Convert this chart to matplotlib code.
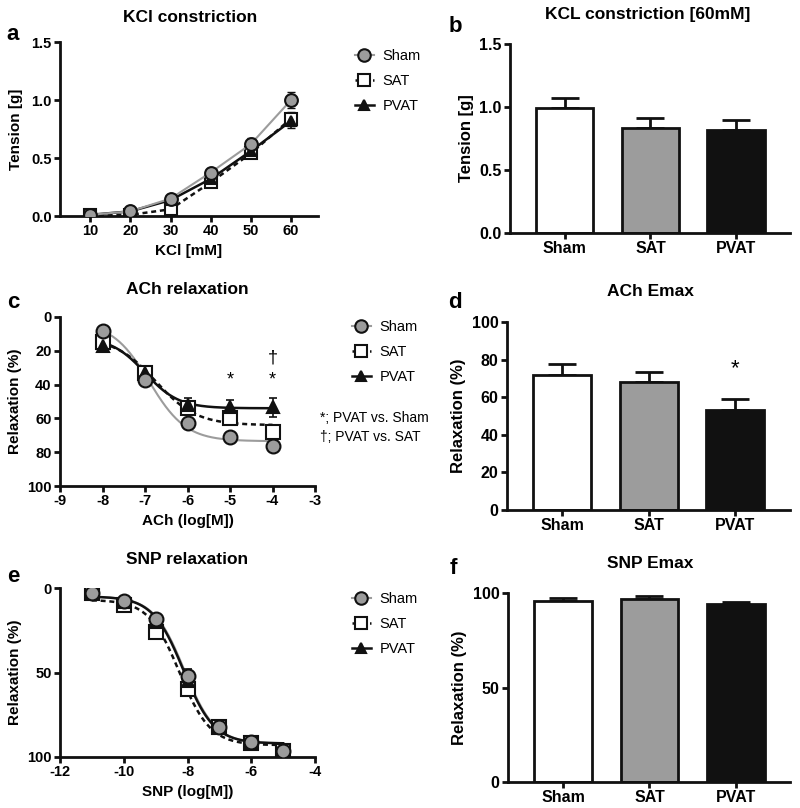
import numpy as np
import matplotlib
matplotlib.use("Agg")
import matplotlib.pyplot as plt
from matplotlib.lines import Line2D

plt.rcParams['font.family'] = ['Liberation Sans', 'DejaVu Sans']
plt.rcParams['axes.unicode_minus'] = False

# ---------------- data ----------------
groups = ['Sham', 'SAT', 'PVAT']

kcl_conc = [10, 20, 30, 40, 50, 60]
kcl_sham = [0.01, 0.04, 0.15, 0.375, 0.62, 1.00]
kcl_sham_err = [0.02, 0.02, 0.02, 0.03, 0.05, 0.07]
kcl_sat = [0.005, 0.01, 0.058, 0.29, 0.54, 0.84]
kcl_sat_err = [0.01, 0.01, 0.01, 0.03, 0.04, 0.06]
kcl_pvat = [0.01, 0.04, 0.137, 0.32, 0.56, 0.82]
kcl_pvat_err = [0.01, 0.01, 0.02, 0.03, 0.04, 0.06]

kcl60_mean = [0.99, 0.83, 0.82]
kcl60_err = [0.08, 0.08, 0.075]

ach_logc = [-8, -7, -6, -5, -4]
ach_sham = [8, 37, 62.5, 71, 76.5]
ach_sham_err = [1, 3, 1.5, 1, 1.5]
ach_sat = [15, 33, 54, 60, 68]
ach_sat_err = [2, 3, 3, 4, 4]
ach_pvat = [17, 33, 52, 53.5, 53.5]
ach_pvat_err = [2, 3, 4, 4.5, 5.5]
# fitted sigmoid parameters: bottom, top, logEC50, hill
ach_fit_sham = [3, 73.5, -6.9, 1.0]
ach_fit_sat = [12, 64, -6.75, 0.9]
ach_fit_pvat = [12, 54, -7.0, 1.1]

ach_emax = [72, 68, 53]
ach_emax_err = [5.5, 5.5, 6]

snp_logc = [-11, -10, -9, -8, -7, -6, -5]
snp_sham = [3, 7.5, 18.5, 52, 82, 91, 96.5]
snp_sham_err = [1, 1, 1.5, 4, 1.5, 1, 1]
snp_sat = [3, 10, 26, 60, 82, 91.5, 96.5]
snp_sat_err = [1, 1.5, 3, 3, 1.5, 1, 1]
snp_pvat = [3, 8, 20, 55, 82, 91, 96.5]
snp_pvat_err = [1, 1, 1.5, 3, 1.5, 1, 1]
snp_fit_sham = [5, 92, -8.1, 0.9]
snp_fit_sat = [7, 93, -8.25, 0.9]
snp_fit_pvat = [5, 92, -8.13, 0.9]

snp_emax = [96, 97, 94]
snp_emax_err = [1.5, 1.5, 1.5]

# ---------------- style ----------------
GREY = '#9c9c9c'
BLACK = '#111111'
W, H = 800, 808
fig = plt.figure(figsize=(W / 100, H / 100), dpi=100)


def box(x0, y0, x1, y1):
    return [x0 / W, 1 - y1 / H, (x1 - x0) / W, (y1 - y0) / H]


def style(ax, tick_fs):
    for s in ['top', 'right']:
        ax.spines[s].set_visible(False)
    for s in ['left', 'bottom']:
        ax.spines[s].set_linewidth(2.0)
        ax.spines[s].set_color(BLACK)
    ax.tick_params(direction='out', length=4, width=2.0, color=BLACK,
                   labelsize=tick_fs, pad=2)
    for lab in ax.get_xticklabels() + ax.get_yticklabels():
        lab.set_fontweight('bold')


series_style = {
    'Sham': dict(color=GREY, ls='-', lw=1.5, marker='o', mfc=GREY, mec=BLACK, ms=10, z=6),
    'SAT': dict(color=BLACK, ls=(0, (2, 1.5)), lw=1.8, marker='s', mfc='white', mec=BLACK, ms=9.5, z=4),
    'PVAT': dict(color=BLACK, ls='-', lw=1.8, marker='^', mfc=BLACK, mec=BLACK, ms=8.5, z=5),
}
bar_colors = ['white', GREY, BLACK]


def sigmoid(x, p):
    b, t, ec, h = p
    return b + (t - b) / (1 + 10 ** ((ec - x) * h))


def legend(ax, x, y):
    handles = []
    for g in groups:
        st = series_style[g]
        handles.append(Line2D([], [], color=st['color'], ls=st['ls'], lw=st['lw'],
                              marker=st['marker'], mfc=st['mfc'], mec=st['mec'],
                              ms=st['ms'] * 0.9, mew=1.5))
    ax.legend(handles, groups, loc='upper left', bbox_to_anchor=(x / W, 1 - y / H),
              bbox_transform=fig.transFigure, frameon=False, fontsize=10.5,
              handlelength=1.3, handletextpad=0.6, labelspacing=0.75,
              borderpad=0, borderaxespad=0)


def curve_panel(ax, xs, data, errs, fits, xfine, scale=1.0):
    for g, y, e, p in zip(groups, data, errs, fits):
        st = series_style[g]
        if p is not None:
            ax.plot(xfine, sigmoid(xfine, p), color=st['color'], ls=st['ls'], lw=st['lw'], zorder=2)
        ax.errorbar(xs, y, yerr=e, fmt='none', ecolor=BLACK, elinewidth=1.2, capsize=3,
                    capthick=1.2, zorder=3)
        ax.plot(xs, y, ls='none', marker=st['marker'], mfc=st['mfc'], mec=st['mec'],
                ms=st['ms'] * scale, mew=1.5, zorder=st['z'])


def bar_panel(ax, means, errs):
    x = np.arange(len(groups))
    ax.bar(x, means, width=0.67, color=bar_colors, edgecolor=BLACK, linewidth=2.0, zorder=2)
    ax.errorbar(x, means, yerr=[np.zeros(len(errs)), errs], fmt='none', ecolor=BLACK,
                elinewidth=2.0, capsize=10, capthick=2.0, zorder=1)
    ax.set_xticks(x)
    ax.set_xticklabels(groups)
    ax.set_xlim(-0.64, 2.63)
    ax.tick_params(axis='x', length=0, pad=6)


# ---- panel a ----
ax = fig.add_axes(box(60, 42, 318, 216))
for g, y, e in zip(groups, [kcl_sham, kcl_sat, kcl_pvat], [kcl_sham_err, kcl_sat_err, kcl_pvat_err]):
    st = series_style[g]
    ax.errorbar(kcl_conc, y, yerr=e, fmt='none', ecolor=BLACK, elinewidth=1.2, capsize=3, zorder=3)
    ax.plot(kcl_conc, y, color=st['color'], ls=st['ls'], lw=st['lw'], marker=st['marker'],
            mfc=st['mfc'], mec=st['mec'], ms=st['ms'] * 0.92, mew=1.5, zorder=st['z'])
ax.set_xlim(2.5, 66.7)
ax.set_ylim(0, 1.5)
ax.set_xticks(kcl_conc)
ax.set_yticks([0, 0.5, 1.0, 1.5])
ax.set_yticklabels(['0.0', '0.5', '1.0', '1.5'])
ax.set_xlabel('KCl [mM]', fontsize=11, fontweight='bold', labelpad=4)
ax.set_ylabel('Tension [g]', fontsize=11, fontweight='bold', labelpad=6)
style(ax, 10.5)
legend(ax, 355, 49)

# ---- panel b ----
ax = fig.add_axes(box(510, 44, 790, 233))
bar_panel(ax, kcl60_mean, kcl60_err)
ax.set_ylim(0, 1.5)
ax.set_yticks([0, 0.5, 1.0, 1.5])
ax.set_yticklabels(['0.0', '0.5', '1.0', '1.5'])
ax.set_ylabel('Tension [g]', fontsize=12, fontweight='bold', labelpad=4)
style(ax, 11.5)

# ---- panel c ----
ax = fig.add_axes(box(60, 317, 315, 486))
xf = np.linspace(-8, -4, 200)
curve_panel(ax, ach_logc, [ach_sham, ach_sat, ach_pvat],
            [ach_sham_err, ach_sat_err, ach_pvat_err],
            [ach_fit_sham, ach_fit_sat, ach_fit_pvat], xf)
ax.set_xlim(-9, -3)
ax.set_ylim(100, 0)
ax.set_xticks(range(-9, -2))
ax.set_yticks(range(0, 101, 20))
ax.set_xlabel('ACh (log[M])', fontsize=11, fontweight='bold', labelpad=4)
ax.set_ylabel('Relaxation (%)', fontsize=11, fontweight='bold', labelpad=4)
style(ax, 10.5)
for xv, yv, s in [(-5, 37, '*'), (-4, 37, '*'), (-4, 24, '†')]:
    ax.text(xv, yv, s, ha='center', va='center', fontsize=13)
legend(ax, 352, 320)
fig.text(320 / W, 1 - 418 / H, '*; PVAT vs. Sham', fontsize=10, va='center', ha='left')
fig.text(320 / W, 1 - 437 / H, '†; PVAT vs. SAT', fontsize=10, va='center', ha='left')

# ---- panel d ----
ax = fig.add_axes(box(507, 322, 790, 510))
bar_panel(ax, ach_emax, ach_emax_err)
ax.set_ylim(0, 100)
ax.set_yticks(range(0, 101, 20))
ax.set_ylabel('Relaxation (%)', fontsize=12, fontweight='bold', labelpad=4)
style(ax, 11.5)
ax.text(2, ach_emax[2] + ach_emax_err[2] + 16, '*', ha='center', va='center', fontsize=16)

# ---- panel e ----
ax = fig.add_axes(box(60, 588, 315, 757))
xf = np.linspace(-11, -5, 300)
curve_panel(ax, snp_logc, [snp_sham, snp_sat, snp_pvat],
            [snp_sham_err, snp_sat_err, snp_pvat_err],
            [snp_fit_sham, snp_fit_sat, snp_fit_pvat], xf)
ax.set_xlim(-12, -4)
ax.set_ylim(100, 0)
ax.set_xticks(range(-12, -3, 2))
ax.set_yticks([0, 50, 100])
ax.set_xlabel('SNP (log[M])', fontsize=11, fontweight='bold', labelpad=4)
ax.set_ylabel('Relaxation (%)', fontsize=11, fontweight='bold', labelpad=4)
style(ax, 10.5)
legend(ax, 352, 592)

# ---- panel f ----
ax = fig.add_axes(box(508, 593, 790, 782))
bar_panel(ax, snp_emax, snp_emax_err)
ax.set_ylim(0, 100)
ax.set_yticks([0, 50, 100])
ax.set_ylabel('Relaxation (%)', fontsize=12, fontweight='bold', labelpad=4)
style(ax, 11.5)

# ---- titles and panel letters ----
titles = [('KCl constriction', 190, 18), ('KCL constriction [60mM]', 648, 15),
          ('ACh relaxation', 187, 289), ('ACh Emax', 650, 292),
          ('SNP relaxation', 187, 560), ('SNP Emax', 650, 563)]
for t, x, y in titles:
    fig.text(x / W, 1 - y / H, t, ha='center', va='center', fontsize=12.5, fontweight='bold')
letters = [('a', 13, 34), ('b', 455, 27), ('c', 13, 303), ('d', 455, 303),
           ('e', 13, 577), ('f', 453, 568)]
for t, x, y in letters:
    fig.text(x / W, 1 - y / H, t, ha='center', va='center', fontsize=16, fontweight='bold')

fig.savefig('out.png', dpi=100)
